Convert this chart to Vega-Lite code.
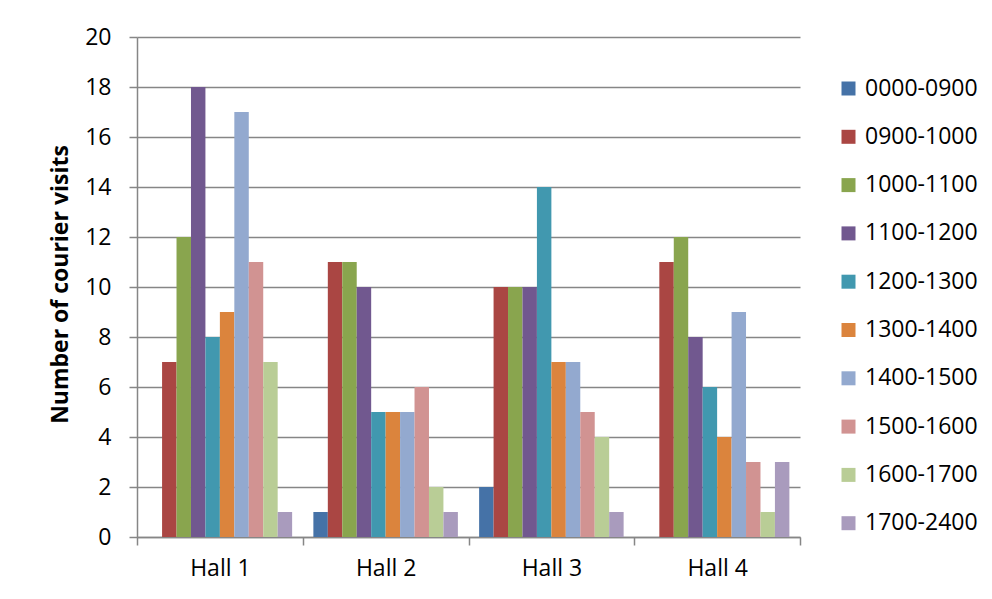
{
  "$schema": "https://vega.github.io/schema/vega-lite/v6.json",
  "width": 663,
  "height": 500,
  "autosize": {"type": "none"},
  "padding": {"left": 137, "top": 37, "right": 192, "bottom": 62},
  "background": "white",
  "config": {
    "font": "Open Sans",
    "view": {"stroke": null},
    "axis": {"labelFont": "Open Sans", "titleFont": "Open Sans", "labelColor": "#000000", "titleColor": "#000000"}
  },
  "data": {
    "values": [
      {"hall": "Hall 1", "slot": "0000-0900", "n": 0},
      {"hall": "Hall 1", "slot": "0900-1000", "n": 7},
      {"hall": "Hall 1", "slot": "1000-1100", "n": 12},
      {"hall": "Hall 1", "slot": "1100-1200", "n": 18},
      {"hall": "Hall 1", "slot": "1200-1300", "n": 8},
      {"hall": "Hall 1", "slot": "1300-1400", "n": 9},
      {"hall": "Hall 1", "slot": "1400-1500", "n": 17},
      {"hall": "Hall 1", "slot": "1500-1600", "n": 11},
      {"hall": "Hall 1", "slot": "1600-1700", "n": 7},
      {"hall": "Hall 1", "slot": "1700-2400", "n": 1},
      {"hall": "Hall 2", "slot": "0000-0900", "n": 1},
      {"hall": "Hall 2", "slot": "0900-1000", "n": 11},
      {"hall": "Hall 2", "slot": "1000-1100", "n": 11},
      {"hall": "Hall 2", "slot": "1100-1200", "n": 10},
      {"hall": "Hall 2", "slot": "1200-1300", "n": 5},
      {"hall": "Hall 2", "slot": "1300-1400", "n": 5},
      {"hall": "Hall 2", "slot": "1400-1500", "n": 5},
      {"hall": "Hall 2", "slot": "1500-1600", "n": 6},
      {"hall": "Hall 2", "slot": "1600-1700", "n": 2},
      {"hall": "Hall 2", "slot": "1700-2400", "n": 1},
      {"hall": "Hall 3", "slot": "0000-0900", "n": 2},
      {"hall": "Hall 3", "slot": "0900-1000", "n": 10},
      {"hall": "Hall 3", "slot": "1000-1100", "n": 10},
      {"hall": "Hall 3", "slot": "1100-1200", "n": 10},
      {"hall": "Hall 3", "slot": "1200-1300", "n": 14},
      {"hall": "Hall 3", "slot": "1300-1400", "n": 7},
      {"hall": "Hall 3", "slot": "1400-1500", "n": 7},
      {"hall": "Hall 3", "slot": "1500-1600", "n": 5},
      {"hall": "Hall 3", "slot": "1600-1700", "n": 4},
      {"hall": "Hall 3", "slot": "1700-2400", "n": 1},
      {"hall": "Hall 4", "slot": "0000-0900", "n": 0},
      {"hall": "Hall 4", "slot": "0900-1000", "n": 11},
      {"hall": "Hall 4", "slot": "1000-1100", "n": 12},
      {"hall": "Hall 4", "slot": "1100-1200", "n": 8},
      {"hall": "Hall 4", "slot": "1200-1300", "n": 6},
      {"hall": "Hall 4", "slot": "1300-1400", "n": 4},
      {"hall": "Hall 4", "slot": "1400-1500", "n": 9},
      {"hall": "Hall 4", "slot": "1500-1600", "n": 3},
      {"hall": "Hall 4", "slot": "1600-1700", "n": 1},
      {"hall": "Hall 4", "slot": "1700-2400", "n": 3}
    ]
  },
  "mark": {"type": "bar"},
  "encoding": {
    "x": {
      "field": "hall",
      "type": "nominal",
      "scale": {"paddingInner": 0, "paddingOuter": 0},
      "axis": {
        "title": null,
        "labelAngle": 0,
        "labelFontSize": 23,
        "labelPadding": 12,
        "tickBand": "extent",
        "ticks": true,
        "tickSize": 8,
        "tickColor": "#868686",
        "domainColor": "#868686",
        "tickWidth": 1.5,
        "domainWidth": 1.5
      }
    },
    "xOffset": {"field": "slot", "type": "nominal", "scale": {"paddingInner": 0, "paddingOuter": 0.735}},
    "y": {
      "field": "n",
      "type": "quantitative",
      "scale": {"domain": [0, 20]},
      "axis": {
        "title": "Number of courier visits",
        "titleFontSize": 23,
        "titleFontWeight": "bold",
        "titleX": -77,
        "titleY": 247,
        "titleAngle": -90,
        "titleAlign": "center",
        "titleBaseline": "middle",
        "values": [0, 2, 4, 6, 8, 10, 12, 14, 16, 18, 20],
        "labelFontSize": 23,
        "labelPadding": 18,
        "tickSize": 8,
        "tickColor": "#868686",
        "domainColor": "#868686",
        "tickWidth": 1.5,
        "domainWidth": 1.5,
        "grid": true,
        "gridColor": "#868686",
        "gridWidth": 1.5
      }
    },
    "color": {
      "field": "slot",
      "type": "nominal",
      "scale": {
        "domain": ["0000-0900", "0900-1000", "1000-1100", "1100-1200", "1200-1300", "1300-1400", "1400-1500", "1500-1600", "1600-1700", "1700-2400"],
        "range": ["#4572A7", "#AA4643", "#89A54E", "#71588F", "#4198AF", "#DB843D", "#93A9CF", "#D19392", "#B9CD96", "#A99BBD"]
      },
      "legend": {
        "title": null,
        "orient": "none",
        "legendX": 700,
        "legendY": 40,
        "padding": 0,
        "symbolType": "square",
        "symbolSize": 196,
        "symbolStrokeWidth": 0,
        "labelFontSize": 23,
        "labelFont": "Open Sans",
        "labelColor": "#000000",
        "labelOffset": 5,
        "rowPadding": 24.3
      }
    }
  }
}
